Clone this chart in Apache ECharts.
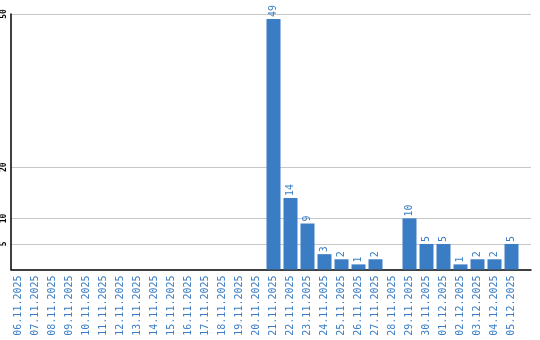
<!DOCTYPE html>
<html><head><meta charset="utf-8">
<script src="https://cdn.jsdelivr.net/npm/echarts@6/dist/echarts.min.js"></script>
<style>html,body{margin:0;padding:0;background:#fff}#c{width:540px;height:340px}</style>
</head><body><div id="c"></div>
<script>
const categories = ['06.11.2025','07.11.2025','08.11.2025','09.11.2025','10.11.2025','11.11.2025','12.11.2025','13.11.2025','14.11.2025','15.11.2025','16.11.2025','17.11.2025','18.11.2025','19.11.2025','20.11.2025','21.11.2025','22.11.2025','23.11.2025','24.11.2025','25.11.2025','26.11.2025','27.11.2025','28.11.2025','29.11.2025','30.11.2025','01.12.2025','02.12.2025','03.12.2025','04.12.2025','05.12.2025'];
const values = [0,0,0,0,0,0,0,0,0,0,0,0,0,0,0,49,14,9,3,2,1,2,0,10,5,5,1,2,2,5];
const yTicks = [5,10,20,50];
const blue = '#3a7dc4';
const mono = 'DejaVu Sans Mono';
const chart = echarts.init(document.getElementById('c'), null, {renderer:'canvas'});
chart.setOption({
  animation:false,
  grid:[
    {left:10.5, right:9, top:14, bottom:70.5},
    {left:10, right:20, top:14, bottom:70.5}
  ],
  xAxis:[
    {gridIndex:0, type:'value', min:0, max:1, axisLine:{show:true, onZero:false, lineStyle:{color:'#000', width:1.5}}, axisTick:{show:false}, axisLabel:{show:false}, splitLine:{show:false}},
    {gridIndex:1, type:'category', data:categories, axisLine:{show:false}, axisTick:{show:false},
     axisLabel:{interval:0, rotate:90, color:blue, fontFamily:mono, fontSize:10, margin:6}}
  ],
  yAxis:[
    {gridIndex:0, type:'value', min:0, max:50, axisLine:{show:true, lineStyle:{color:'#000', width:1.5}},
     axisTick:{show:false, customValues:yTicks},
     axisLabel:{customValues:yTicks, rotate:90, align:'center', verticalAlign:'bottom', color:'#000', fontFamily:mono, fontSize:8, fontWeight:'bold', margin:3},
     splitLine:{show:true, lineStyle:{color:'#c8c8c8', width:1}}},
    {gridIndex:1, type:'value', min:0, max:50, show:false}
  ],
  series:[{
    type:'bar', xAxisIndex:1, yAxisIndex:1, data:values, barWidth:14,
    itemStyle:{color:blue},
    label:{show:true, position:'top', rotate:90, align:'left', verticalAlign:'middle', distance:2,
      color:blue, fontFamily:mono, fontSize:10, formatter:p => p.value ? String(p.value) : ''}
  }]
});
</script></body></html>
